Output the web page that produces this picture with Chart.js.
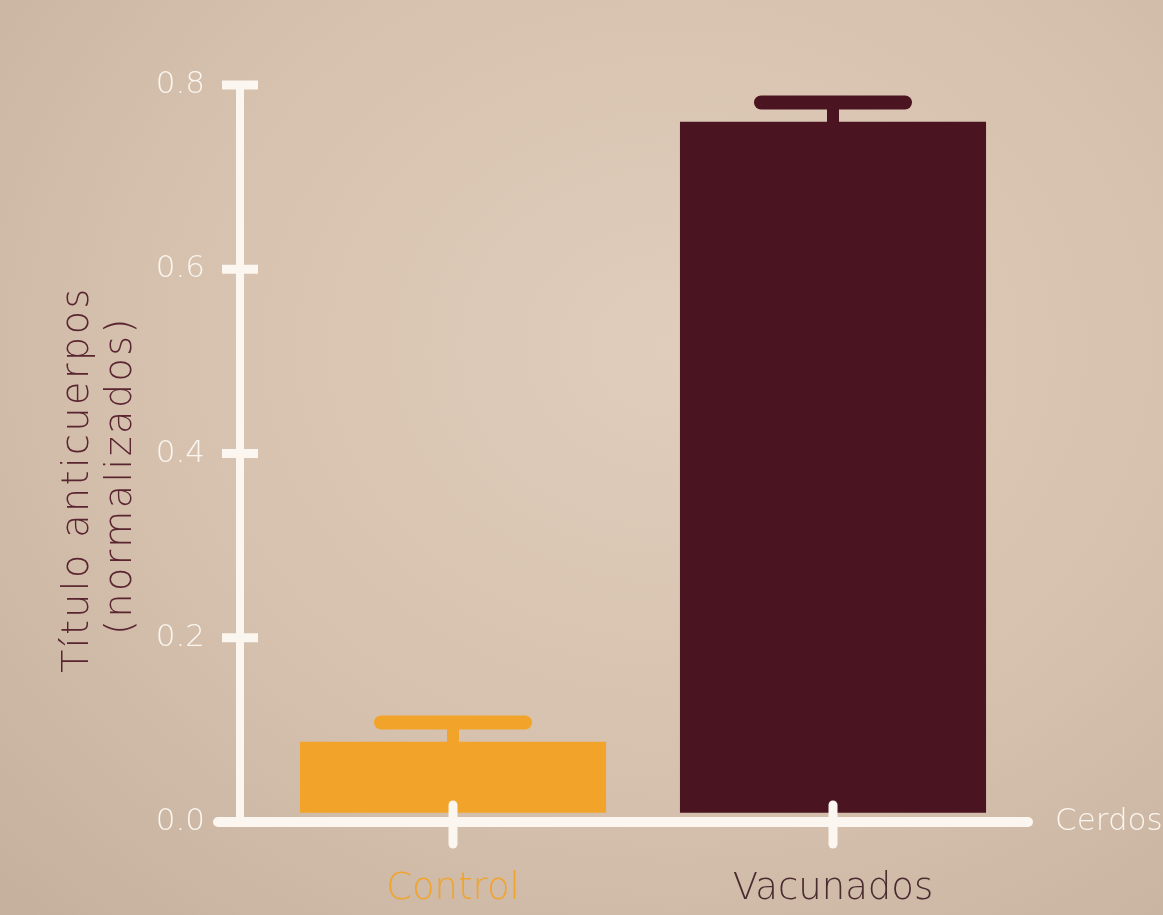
<!DOCTYPE html>
<html>
<head>
<meta charset="utf-8">
<script src="https://cdn.jsdelivr.net/npm/chart.js@4.4.1/dist/chart.umd.min.js"></script>
<style>
	html, body { margin: 0; padding: 0; }
	body {
		width: 1163px;
		height: 915px;
		overflow: hidden;
		background: radial-gradient(ellipse at 58% 38%, #e1cdbc 0%, #d6c1ae 55%, #c4b09d 100%);
	}
	#wrap { position: relative; width: 1163px; height: 915px; }
</style>
</head>
<body>
<div id="wrap"><canvas id="chart" width="1163" height="915"></canvas></div>
<script>
// data
const categories = ["Control", "Vacunados"];
const values = [0.087, 0.76];
const errors = [0.021, 0.021];
const barColors = ["#f2a42a", "#4a1420"];
const labelColors = ["#f0a42e", "#4a2b30"];
const yTicks = [0, 0.2, 0.4, 0.6, 0.8];
const yTitle = ["Título anticuerpos", "(normalizados)"];
const xAxisName = "Cerdos";

const WHITE = "#fbf6ef";
const FONT = "'DejaVu Sans', sans-serif";

// thick white axes, ticks and the category marks
const axesPlugin = {
	id: "axesPlugin",
	afterDatasetsDraw(chart) {
		const ctx = chart.ctx;
		const area = chart.chartArea;
		const y = chart.scales.y;
		const x = chart.scales.x;
		const axisX = area.left - 23;
		const zeroY = y.getPixelForValue(0);
		ctx.save();
		ctx.strokeStyle = WHITE;
		// y axis
		ctx.lineWidth = 8;
		ctx.beginPath();
		ctx.moveTo(axisX, y.getPixelForValue(0.8) - 4);
		ctx.lineTo(axisX, zeroY);
		ctx.stroke();
		// y ticks
		ctx.lineWidth = 9;
		yTicks.forEach((v) => {
			const py = y.getPixelForValue(v);
			ctx.beginPath();
			ctx.moveTo(axisX - 18, py);
			ctx.lineTo(axisX + 18, py);
			ctx.stroke();
		});
		// x axis
		ctx.lineWidth = 10;
		ctx.lineCap = "round";
		ctx.beginPath();
		ctx.moveTo(axisX - 22, zeroY);
		ctx.lineTo(area.right + 5, zeroY);
		ctx.stroke();
		// category marks
		ctx.lineWidth = 9;
		categories.forEach((c, i) => {
			const px = x.getPixelForValue(i);
			ctx.beginPath();
			ctx.moveTo(px, zeroY - 17);
			ctx.lineTo(px, zeroY + 22);
			ctx.stroke();
		});
		// axis name
		ctx.fillStyle = WHITE;
		ctx.font = "200 31px " + FONT;
		ctx.textAlign = "left";
		ctx.textBaseline = "middle";
		ctx.fillText(xAxisName, area.right + 32, zeroY);
		ctx.restore();
	},
};

// rotated two-line y title, sits a bit below the middle of the axis
const yTitlePlugin = {
	id: "yTitlePlugin",
	afterDraw(chart) {
		const ctx = chart.ctx;
		const area = chart.chartArea;
		const cy = (area.top + area.bottom) / 2 + 26;
		ctx.save();
		ctx.fillStyle = "#5a2531";
		ctx.font = "300 38px " + FONT;
		ctx.letterSpacing = "2.5px";
		ctx.textAlign = "center";
		ctx.textBaseline = "middle";
		yTitle.forEach((line, i) => {
			ctx.save();
			ctx.translate(78 + i * 43, cy - i * 4);
			ctx.rotate(-Math.PI / 2);
			ctx.fillText(line, 0, 0);
			ctx.restore();
		});
		ctx.restore();
	},
};

// error bars: stem plus a rounded cap
const errorBarPlugin = {
	id: "errorBarPlugin",
	afterDatasetsDraw(chart) {
		const ctx = chart.ctx;
		const meta = chart.getDatasetMeta(0);
		const y = chart.scales.y;
		ctx.save();
		meta.data.forEach((bar, i) => {
			const top = y.getPixelForValue(values[i] + errors[i]);
			ctx.strokeStyle = barColors[i];
			ctx.lineWidth = 12;
			ctx.lineCap = "butt";
			ctx.beginPath();
			ctx.moveTo(bar.x, top);
			ctx.lineTo(bar.x, bar.y + 1);
			ctx.stroke();
			ctx.lineWidth = 14;
			ctx.lineCap = "round";
			ctx.beginPath();
			ctx.moveTo(bar.x - 72, top);
			ctx.lineTo(bar.x + 72, top);
			ctx.stroke();
		});
		ctx.restore();
	},
};

new Chart(document.getElementById("chart"), {
	type: "bar",
	data: {
		labels: categories,
		datasets: [
			{
				data: values,
				base: 0.01,
				backgroundColor: barColors,
				borderWidth: 0,
				barPercentage: 0.9,
				categoryPercentage: 0.895,
			},
		],
	},
	options: {
		responsive: false,
		animation: false,
		devicePixelRatio: 1,
		layout: { padding: { top: 85, bottom: 0, left: 52, right: 140 } },
		plugins: { legend: { display: false }, tooltip: { enabled: false } },
		scales: {
			x: {
				offset: true,
				grid: { display: false, drawTicks: false },
				border: { display: false },
				ticks: {
					padding: 45,
					color: (c) => labelColors[c.index],
					font: { size: 37, family: FONT, weight: 200 },
				},
				afterFit: (scale) => { scale.height = 93; },
			},
			y: {
				min: 0,
				max: 0.8,
				grid: { display: false, drawTicks: false },
				border: { display: false },
				afterBuildTicks: (scale) => {
					scale.ticks = yTicks.map((v) => ({ value: v }));
				},
				ticks: {
					padding: 58,
					color: WHITE,
					font: { size: 31, family: FONT, weight: 200 },
					callback: (v) => v.toFixed(1),
				},
				afterFit: (scale) => { scale.width = 211; },
			},
		},
	},
	plugins: [axesPlugin, errorBarPlugin, yTitlePlugin],
});
</script>
</body>
</html>
